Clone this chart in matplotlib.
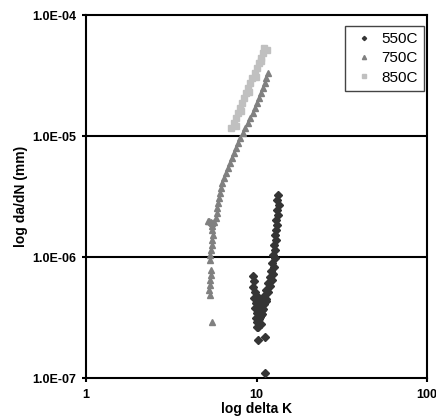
import matplotlib
matplotlib.use("Agg")
import matplotlib.pyplot as plt
from matplotlib.ticker import FixedLocator, FixedFormatter, NullLocator

plt.rcParams['font.family'] = ['Liberation Sans', 'DejaVu Sans']

# ---------------- data ----------------
k_550 = [13.37, 13.2, 13.5, 13.2, 13.37, 13.0, 13.2, 13.0, 12.85, 13.0, 12.67, 12.85,
         12.5, 12.85, 12.33, 12.67, 12.17, 12.5, 12.0, 12.33, 11.68, 12.0, 11.37, 11.68,
         11.07, 11.37, 10.77, 11.07, 10.48, 10.77, 10.2, 10.48, 10.2, 10.77, 11.37,
         9.54, 9.67, 9.54, 9.8, 9.67, 9.93, 9.8, 10.07, 9.93, 10.07, 10.2,
         10.2, 10.48, 10.34, 10.62, 10.9, 11.2, 10.34, 10.62, 10.07,
         10.05, 10.2, 11.2, 11.2]
da_550 = [3.25e-6, 2.95e-6, 2.69e-6, 2.45e-6, 2.22e-6, 2.02e-6, 1.84e-6, 1.67e-6, 1.52e-6,
          1.38e-6, 1.26e-6, 1.14e-6, 1.04e-6, 9.8e-7, 8.9e-7, 8.2e-7, 7.7e-7, 7.3e-7,
          6.8e-7, 6.45e-7, 6.1e-7, 5.8e-7, 5.35e-7, 5.1e-7, 4.8e-7, 4.5e-7, 4.3e-7,
          4.1e-7, 3.85e-7, 3.65e-7, 3.45e-7, 3.2e-7, 2.95e-7, 3.4e-7, 4.3e-7,
          6.9e-7, 6.3e-7, 5.6e-7, 5.1e-7, 4.6e-7, 4.2e-7, 3.8e-7, 3.45e-7, 3.15e-7, 2.9e-7, 2.65e-7,
          4.4e-7, 4.0e-7, 3.7e-7, 3.3e-7, 3.7e-7, 4.4e-7, 3.05e-7, 2.8e-7, 4.8e-7,
          2.66e-7, 2.06e-7, 2.2e-7, 1.1e-7]

k_750 = [11.68, 11.37, 11.22, 10.92, 10.63, 10.34, 10.07, 9.80, 9.54, 9.16, 8.92, 8.56,
         8.33, 8.00, 7.79, 7.58, 7.38, 7.18, 6.99, 6.81, 6.62, 6.45, 6.28, 6.19, 6.11,
         6.03, 5.95, 5.87, 5.87, 5.79, 5.41, 5.19, 5.6, 5.27, 5.5, 5.48, 5.48, 5.56, 5.48,
         5.48, 5.41, 5.34, 5.34, 5.41, 5.41, 5.34, 5.34, 5.27, 5.34, 5.48]
da_750 = [3.32e-5, 3.01e-5, 2.74e-5, 2.49e-5, 2.27e-5, 2.06e-5, 1.87e-5, 1.70e-5, 1.55e-5,
          1.41e-5, 1.28e-5, 1.16e-5, 1.06e-5, 9.62e-6, 8.75e-6, 7.96e-6, 7.24e-6, 6.58e-6,
          5.98e-6, 5.44e-6, 4.95e-6, 4.50e-6, 4.09e-6, 3.72e-6, 3.38e-6, 3.08e-6, 2.80e-6,
          2.54e-6, 2.31e-6, 2.10e-6, 1.95e-6, 2.0e-6, 1.95e-6, 1.97e-6, 1.9e-6, 1.80e-6,
          1.67e-6, 1.52e-6, 1.38e-6, 1.26e-6, 1.14e-6, 1.04e-6, 9.45e-7, 7.81e-7, 7.10e-7,
          6.46e-7, 5.87e-7, 5.34e-7, 4.85e-7, 2.90e-7]

k_850 = [11.07, 10.92, 10.63, 10.34, 10.07, 9.80, 9.41, 9.16, 8.92, 8.68, 8.45, 8.22,
         8.00, 7.79, 7.58, 7.38, 7.09, 11.5, 10.6, 9.9, 9.0, 8.1, 7.6]
da_850 = [5.34e-5, 4.85e-5, 4.41e-5, 4.01e-5, 3.65e-5, 3.32e-5, 3.01e-5, 2.74e-5, 2.49e-5,
          2.27e-5, 2.06e-5, 1.87e-5, 1.70e-5, 1.55e-5, 1.41e-5, 1.28e-5, 1.16e-5,
          5.1e-5, 4.2e-5, 3.1e-5, 2.3e-5, 1.6e-5, 1.2e-5]

series_labels = ['550C', '750C', '850C']
x_ticks = [1, 10, 100]
x_ticklabels = ['1', '10', '100']
y_ticks = [1e-7, 1e-6, 1e-5, 1e-4]
y_ticklabels = ['1.0E-07', '1.0E-06', '1.0E-05', '1.0E-04']

# ---------------- figure ----------------
fig = plt.figure(figsize=(4.36, 4.18), dpi=100)
ax = fig.add_axes([86 / 436, 1 - 378 / 418, 341 / 436, 363 / 418])
ax.set_xscale('log')
ax.set_yscale('log')
ax.set_xlim(1, 100)
ax.set_ylim(1e-7, 1e-4)

for yv in y_ticks[1:-1]:
    ax.axhline(yv, color='black', lw=1.5, zorder=1)

ax.plot(k_550, da_550, ls='none', marker='D', ms=3.6, color='#353535',
        mec='#353535', label=series_labels[0], zorder=3)
ax.plot(k_750, da_750, ls='none', marker='^', ms=5.0, color='#808080',
        mec='#808080', label=series_labels[1], zorder=3)
ax.plot(k_850, da_850, ls='none', marker='s', ms=5.0, color='#c0c0c0',
        mec='#c0c0c0', label=series_labels[2], zorder=2)

for sp in ax.spines.values():
    sp.set_linewidth(1.5)
    sp.set_color('black')

ax.xaxis.set_major_locator(FixedLocator(x_ticks))
ax.xaxis.set_major_formatter(FixedFormatter(x_ticklabels))
ax.xaxis.set_minor_locator(NullLocator())
ax.yaxis.set_major_locator(FixedLocator(y_ticks))
ax.yaxis.set_major_formatter(FixedFormatter(y_ticklabels))
ax.yaxis.set_minor_locator(NullLocator())
ax.tick_params(axis='both', direction='out', length=3, width=1.5, color='black')
ax.tick_params(axis='y', pad=4)
ax.tick_params(axis='x', pad=5)
for lab in ax.get_xticklabels() + ax.get_yticklabels():
    lab.set_fontweight('bold')
    lab.set_fontsize(9)

ax.set_xlabel('log delta K', fontsize=10, fontweight='bold', labelpad=0.5)
ax.set_ylabel('log da/dN (mm)', fontsize=10, fontweight='bold', labelpad=3)

leg = ax.legend(loc='upper right', bbox_to_anchor=(0.991, 0.970), fontsize=11,
                frameon=True, fancybox=False, edgecolor='#444444', framealpha=1,
                handlelength=1.7, handletextpad=0.3, borderpad=0.4,
                labelspacing=0.35, borderaxespad=0, markerscale=0.6)
leg.get_frame().set_linewidth(1.0)

fig.savefig('out.png', dpi=100)
